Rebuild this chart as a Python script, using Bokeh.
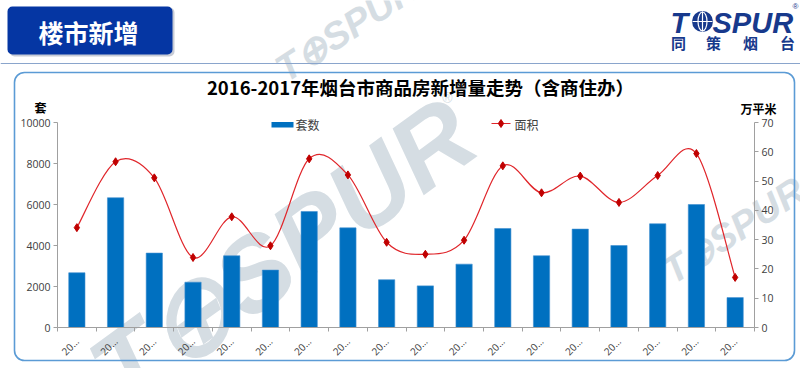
import math
from bokeh.plotting import figure
from bokeh.models import Range1d, LinearAxis, FixedTicker
from bokeh.core.properties import value
from bokeh.embed import file_html
from bokeh.resources import INLINE

# ---------------- data ----------------
months = ["20…"] * 18
units = [2670, 6330, 3630, 2210, 3500, 2800, 5660, 4860, 2330,
         2030, 3090, 4830, 3500, 4800, 4000, 5060, 6000, 1460]
area = [34.1, 56.6, 51.1, 23.9, 37.8, 27.9, 57.6, 52.1, 29.1,
        25.0, 29.8, 55.2, 46.0, 51.7, 42.7, 51.9, 59.4, 17.1]
units_ticks = [0, 2000, 4000, 6000, 8000, 10000]
area_ticks = [0, 10, 20, 30, 40, 50, 60, 70]
title_text = "2016-2017年烟台市商品房新增量走势（含商住办）"
header_text = "楼市新增"
left_unit = "套"
right_unit = "万平米"
legend_units = "套数"
legend_area = "面积"
brand = "SPUR"
brand_cn = ["同", "策", "烟", "台"]
watermark = "T⊕SPUR"

# ---------------- layout ----------------
W, H = 800, 368
PL, PR, PT, PB = 57, 754, 122, 327   # plot area in pixels
n = len(units)
ux = (PR - PL) / n
uy = (PB - PT) / units_ticks[-1]
uy2 = (PB - PT) / area_ticks[-1]

p = figure(width=W, height=H,
           x_range=Range1d(-PL / ux, n + (W - PR) / ux),
           y_range=Range1d(-(H - PB) / uy, units_ticks[-1] + PT / uy),
           x_axis_type=None, y_axis_type=None,
           output_backend="svg", toolbar_location=None,
           min_border=0, outline_line_color=None,
           background_fill_color="white", border_fill_color="white")
p.extra_y_ranges = {"y2": Range1d(-(H - PB) / uy2, area_ticks[-1] + PT / uy2),
                    "py": Range1d(H, 0)}
p.extra_x_ranges = {"px": Range1d(0, W)}
PX = dict(x_range_name="px", y_range_name="py")

CJK = value("Noto Sans CJK SC")
WM = "#d5dde3"

# ---------------- watermarks ----------------
p.text(x=[282], y=[252], text=[watermark], angle=math.radians(36),
       text_font=value("Liberation Sans"), text_font_style="bold italic",
       text_font_size="105px", text_color=WM, text_align="center",
       text_baseline="middle", **PX)
p.text(x=[447], y=[97], text=["®"], text_font=value("Liberation Sans"),
       text_font_size="14px", text_color=WM, text_align="center",
       text_baseline="middle", **PX)
p.text(x=[346, 733], y=[28, 230], text=[watermark] * 2,
       angle=math.radians(33),
       text_font=value("Liberation Sans"), text_font_style="bold italic",
       text_font_size="38px", text_color=WM, text_align="center",
       text_baseline="middle", **PX)

# ---------------- page decoration ----------------
p.segment(x0=[0], y0=[63], x1=[W], y1=[63], line_color="#8aa5cc",
          line_width=1, **PX)
p.quad(left=[14], right=[794], top=[72], bottom=[360], fill_color=None,
       line_color="#5B9BD5", line_width=1.6, border_radius=10, **PX)
p.quad(left=[9], right=[174], top=[7], bottom=[56], fill_color="#c8ccd6",
       line_color=None, border_radius=5, **PX)
p.quad(left=[7], right=[172], top=[6], bottom=[54], fill_color="#0536a3",
       line_color=None, border_radius=5, **PX)
p.text(x=[88], y=[31], text=[header_text], text_font=CJK,
       text_font_style="bold", text_font_size="25px", text_color="white",
       text_align="center", text_baseline="middle", **PX)

# logo
NAVY = "#17398c"
p.text(x=[670], y=[22], text=["T"], text_font=value("Liberation Sans"),
       text_font_style="bold italic", text_font_size="29px",
       text_color=NAVY, text_baseline="middle", **PX)
p.scatter(x=[702], y=[21], size=21, marker="circle", fill_color=NAVY,
          line_color=None, **PX)
p.ellipse(x=[702], y=[21], width=9, height=19, fill_color=None,
          line_color="white", line_width=1.2, **PX)
p.segment(x0=[692, 702], y0=[21, 11], x1=[712, 702], y1=[21, 31],
          line_color="white", line_width=1.2, **PX)
p.text(x=[712], y=[22], text=[brand], text_font=value("Liberation Sans"),
       text_font_style="bold italic", text_font_size="29px",
       text_color=NAVY, text_baseline="middle", **PX)
p.text(x=[678, 713, 750, 787], y=[42] * 4, text=brand_cn, text_font=CJK,
       text_font_style="bold", text_font_size="15px", text_color=NAVY,
       text_align="center", text_baseline="middle", **PX)
p.text(x=[795], y=[6], text=["®"], text_font=value("Liberation Sans"),
       text_font_size="8px", text_color=NAVY, text_align="center",
       text_baseline="middle", **PX)

# title and unit labels
p.text(x=[420], y=[86], text=[title_text], text_font=CJK,
       text_font_style="bold", text_font_size="18.5px", text_color="#000000",
       text_align="center", text_baseline="middle", **PX)
p.text(x=[40], y=[107], text=[left_unit], text_font=CJK,
       text_font_style="bold", text_font_size="12px", text_color="#000000",
       text_align="center", text_baseline="middle", **PX)
p.text(x=[758], y=[108], text=[right_unit], text_font=CJK,
       text_font_style="bold", text_font_size="12px", text_color="#000000",
       text_align="center", text_baseline="middle", **PX)

# ---------------- data marks ----------------
xs = [i + 0.5 for i in range(n)]
p.vbar(x=xs, top=units, bottom=0, width=0.42, fill_color="#0070C0",
       line_color="#3f8fd0", line_width=0.6)

# smoothed line through the area values (Catmull-Rom as cubic Bezier)
x0, y0, x1, y1, cx0, cy0, cx1, cy1 = ([] for _ in range(8))
for i in range(n - 1):
    a = max(i - 1, 0)
    b = min(i + 2, n - 1)
    x0.append(xs[i]); y0.append(area[i])
    x1.append(xs[i + 1]); y1.append(area[i + 1])
    cx0.append(xs[i] + (xs[i + 1] - xs[a]) / 6)
    cy0.append(area[i] + (area[i + 1] - area[a]) / 6)
    cx1.append(xs[i + 1] - (xs[b] - xs[i]) / 6)
    cy1.append(area[i + 1] - (area[b] - area[i]) / 6)
p.bezier(x0=x0, y0=y0, x1=x1, y1=y1, cx0=cx0, cy0=cy0, cx1=cx1, cy1=cy1,
         line_color="#E0262B", line_width=1.2, y_range_name="y2")
p.scatter(x=xs, y=area, marker="diamond", size=8, fill_color="#C00000",
          line_color="#C00000", y_range_name="y2")

# ---------------- legend (drawn) ----------------
p.quad(left=[271], right=[293], top=[121.5], bottom=[127], fill_color="#0070C0",
       line_color=None, **PX)
p.text(x=[295], y=[124], text=[legend_units], text_font=CJK,
       text_font_size="12px", text_color="#404040", text_baseline="middle",
       **PX)
p.segment(x0=[491], y0=[123], x1=[510], y1=[123], line_color="#E0262B",
          line_width=1.2, **PX)
p.scatter(x=[500.5], y=[123], marker="diamond", size=8, fill_color="#C00000",
          line_color="#C00000", **PX)
p.text(x=[514], y=[124], text=[legend_area], text_font=CJK,
       text_font_size="12px", text_color="#404040", text_baseline="middle",
       **PX)

# ---------------- axes ----------------
AX = "#a0a0a0"
def style(ax):
    ax.axis_line_color = AX
    ax.major_tick_line_color = AX
    ax.minor_tick_line_color = AX
    ax.major_tick_in = 0
    ax.minor_tick_in = 0
    ax.major_label_text_color = "#404040"
    ax.major_label_text_font = "Open Sans"

yl = LinearAxis(fixed_location=0, bounds=(0, units_ticks[-1]),
                ticker=FixedTicker(ticks=units_ticks))
style(yl)
yl.major_tick_out = 4
yl.minor_tick_out = 0
yl.major_label_text_font_size = "10.5px"
yl.major_label_standoff = 3
p.add_layout(yl, "left")

yr = LinearAxis(y_range_name="y2", fixed_location=n,
                bounds=(0, area_ticks[-1]),
                ticker=FixedTicker(ticks=area_ticks))
style(yr)
yr.major_tick_out = 4
yr.minor_tick_out = 0
yr.major_label_text_font_size = "10.5px"
yr.major_label_standoff = 3
p.add_layout(yr, "right")

xa = LinearAxis(fixed_location=0, bounds=(0, n),
                ticker=FixedTicker(ticks=xs, minor_ticks=list(range(n + 1))))
style(xa)
xa.major_tick_out = 0
xa.minor_tick_out = 4
xa.major_label_overrides = {x: lab for x, lab in zip(xs, months)}
xa.major_label_orientation = math.pi / 4
xa.major_label_text_font_size = "10px"
xa.major_label_standoff = 8
p.add_layout(xa, "below")

open("out.html", "w").write(file_html(p, INLINE))
